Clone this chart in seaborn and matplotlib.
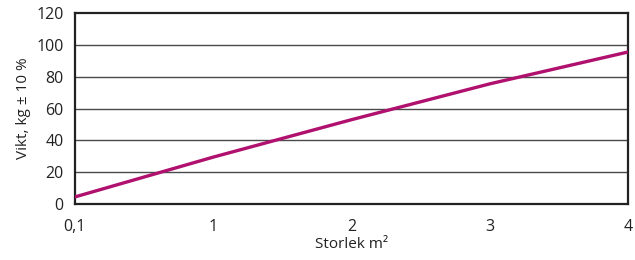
import matplotlib
matplotlib.use("Agg")
import matplotlib.pyplot as plt
import seaborn as sns
import pandas as pd

# size in m2 (shown as evenly spaced categories) and weight in kg
storlek = ["0,1", "1", "2", "3", "4"]
vikt = [4.5, 29.5, 53, 75.5, 95.5]

sns.set_style("white")
plt.rcParams["font.family"] = ["Open Sans", "DejaVu Sans"]

df = pd.DataFrame({"storlek": storlek, "vikt": vikt})

fig = plt.figure(figsize=(6.35, 2.6), dpi=100)
ax = fig.add_axes([0.118, 0.215, 0.871, 0.735])

for yv in [20, 40, 60, 80, 100]:
    ax.axhline(yv, color="#4a4a4a", lw=1.0, zorder=1)

sns.lineplot(data=df, x="storlek", y="vikt", color="#b0106e", lw=2.4, ax=ax, zorder=3)

ax.set_xlim(0, len(storlek) - 1)
ax.set_ylim(0, 120)
ax.set_yticks(range(0, 121, 20))

for s in ax.spines.values():
    s.set_color("#222222")
    s.set_linewidth(1.6)

ax.tick_params(axis="both", direction="out", length=5, width=1.5, color="#222222",
               labelsize=11.5, labelcolor="#222222", pad=3)
ax.tick_params(axis="x", pad=6)

ax.set_xlabel("Storlek m²", fontsize=11, color="#222222", labelpad=1)
ax.set_ylabel("Vikt, kg ± 10 %", fontsize=11, color="#222222", labelpad=4)

plt.savefig("out.png", dpi=100)
